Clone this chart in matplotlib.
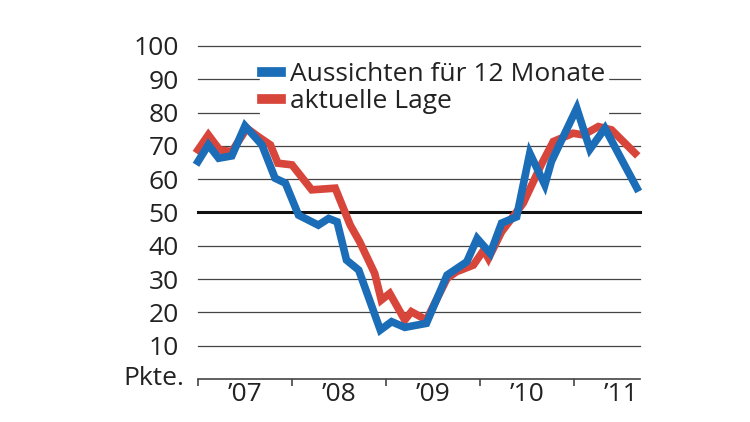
import matplotlib
matplotlib.use("Agg")
import matplotlib.pyplot as plt

# time in years since Jan 2007
blue_t = [0.0,0.11,0.22,0.36,0.5,0.68,0.82,0.93,1.07,1.28,1.39,1.48,1.58,1.71,1.94,2.06,2.2,2.43,2.65,2.86,2.97,3.11,3.23,3.39,3.53,3.69,3.76,4.03,4.17,4.33,4.49,4.67]
blue_v = [65.3,70.3,66.3,67,76,70.3,60.3,58.8,49.2,46.2,48.2,47.2,35.7,32.7,14.7,17.2,15.5,16.7,31.2,35.2,42.2,37.7,46.8,48.7,67.8,58.3,65.3,81.3,69,75.3,66.8,57.3]
red_t = [0.0,0.11,0.23,0.36,0.52,0.64,0.77,0.85,1.0,1.21,1.46,1.62,1.72,1.88,1.95,2.04,2.2,2.27,2.43,2.65,2.75,2.93,3.04,3.09,3.23,3.46,3.66,3.78,3.99,4.1,4.26,4.4,4.65]
red_v = [68.8,73.3,68.8,68.3,75.3,72.8,70.3,64.8,64.3,56.8,57.3,46.2,41.2,31.7,23.7,25.7,17.7,20.2,17.7,30.2,32.2,34.2,38.7,36.2,44.2,52.8,64.8,71.3,73.8,73.3,75.8,74.8,67.8]
years = ["\u201907", "\u201908", "\u201909", "\u201910", "\u201911"]
yticks = [10,20,30,40,50,60,70,80,90,100]

plt.rcParams["font.family"] = "Open Sans"
fig = plt.figure(figsize=(7.5,4.22), dpi=100)
ax = fig.add_axes([0.264, 0.102, 0.589, 0.789])
ax.set_xlim(0, 4.7)
ax.set_ylim(0, 100)
for y in yticks:
    if y == 50:
        ax.axhline(y, color="#111111", lw=2.2, zorder=1, clip_on=False)
    else:
        ax.axhline(y, color="#444444", lw=0.9, zorder=1, clip_on=False)
ax.plot(red_t, red_v, color="#d8463b", lw=5.5, zorder=3, solid_joinstyle="miter", clip_on=False)
ax.plot(blue_t, blue_v, color="#1a6db6", lw=5.5, zorder=4, solid_joinstyle="miter", clip_on=False)
for s in ["top","right","left"]:
    ax.spines[s].set_visible(False)
ax.spines["bottom"].set_color("#444444")
ax.spines["bottom"].set_linewidth(1.2)
ax.set_yticks(yticks)
ax.set_yticklabels([str(v) for v in yticks], fontsize=19, color="#222222")
ax.tick_params(axis="y", length=0, pad=14)
ax.set_xticks(range(5))
ax.set_xticklabels([])
ax.set_xticks([i+0.5 for i in range(5)], minor=True)
ax.set_xticklabels(years, minor=True, fontsize=19, color="#222222")
ax.tick_params(axis="x", which="major", length=5, width=1.2, color="#444444", direction="out")
ax.tick_params(axis="x", which="minor", length=0, pad=2)
ax.text(-0.03, 0, "Pkte.", transform=ax.get_yaxis_transform(), ha="right", va="center", fontsize=19, color="#222222")
from matplotlib.lines import Line2D
h = [Line2D([], [], color="#1a6db6", lw=7), Line2D([], [], color="#d8463b", lw=7)]
leg = ax.legend(h, ["Aussichten f\u00fcr 12 Monate", "aktuelle Lage"], loc="upper left",
                bbox_to_anchor=(0.11, 1.0), frameon=True, fontsize=19, handlelength=0.7,
                handletextpad=0.35, labelspacing=0.1, borderpad=0.1, framealpha=1, edgecolor="white")
leg.set_zorder(2)
for t in leg.get_texts():
    t.set_color("#222222")
fig.savefig("out.png", dpi=100)
